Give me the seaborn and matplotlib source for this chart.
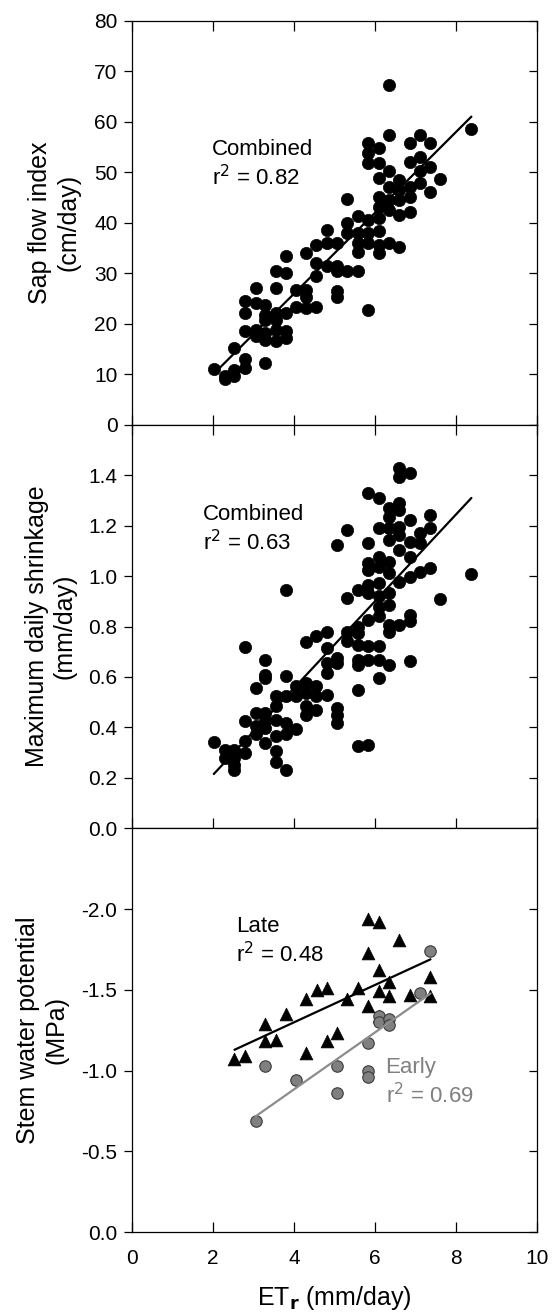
import numpy as np
import pandas as pd
import seaborn as sns
import matplotlib
matplotlib.use("Agg")
import matplotlib.pyplot as plt
from matplotlib import lines as mlines
from matplotlib.ticker import MultipleLocator, FormatStrFormatter

#------------------------------------------------------------------------#
# Data
# top panel: sap flow index vs ETr
sapX = [2.02, 2.29, 2.29, 2.53, 2.53, 2.53, 2.78, 2.78, 2.78, 2.78, 2.78,
        3.05, 3.05, 3.05, 3.05, 3.29, 3.29, 3.29, 3.29, 3.29, 3.29,
        3.56, 3.56, 3.56, 3.56, 3.56, 3.56, 3.81, 3.81, 3.81, 3.81, 3.81,
        4.06, 4.06, 4.30, 4.30, 4.30, 4.30, 4.55, 4.55, 4.55, 4.55,
        4.82, 4.82, 4.82, 5.07, 5.07, 5.07, 5.07, 5.07,
        5.32, 5.32, 5.32, 5.32, 5.58, 5.58, 5.58, 5.58, 5.58,
        5.83, 5.83, 5.83, 5.83, 5.83, 5.83, 5.83,
        6.10, 6.10, 6.10, 6.10, 6.10, 6.10, 6.10, 6.10, 6.10,
        6.35, 6.35, 6.35, 6.35, 6.35, 6.35, 6.35,
        6.59, 6.59, 6.59, 6.59, 6.59,
        6.86, 6.86, 6.86, 6.86, 6.86,
        7.10, 7.10, 7.10, 7.10, 7.37, 7.37, 7.37, 7.61, 8.38]
sapY = [11.1, 9.0, 9.6, 9.6, 10.9, 15.2, 13.0, 11.2, 24.6, 22.1, 18.5,
        27.1, 24.1, 18.8, 17.5, 23.8, 21.8, 20.8, 18.2, 16.8, 12.2,
        27.1, 30.4, 22.1, 20.8, 18.8, 16.5, 33.5, 30.0, 22.1, 18.5, 17.2,
        26.7, 23.4, 34.0, 26.7, 25.4, 23.1, 35.6, 32.0, 29.4, 23.4,
        38.6, 36.0, 31.4, 36.0, 31.4, 30.4, 26.4, 25.4,
        44.7, 39.9, 38.0, 30.4, 41.3, 38.0, 36.0, 34.3, 30.4,
        55.8, 53.8, 51.8, 40.6, 38.0, 36.0, 22.8,
        54.8, 51.8, 48.8, 45.2, 43.2, 40.9, 38.3, 35.6, 34.0,
        67.3, 57.4, 50.2, 47.2, 44.6, 42.6, 36.0,
        48.5, 46.5, 44.6, 41.6, 35.3,
        55.8, 52.1, 47.2, 45.2, 42.2,
        57.4, 53.1, 50.2, 47.9, 55.9, 51.0, 46.1, 48.7, 58.6]

# middle panel: maximum daily shrinkage vs ETr
mdsX = [2.02, 2.29, 2.29, 2.53, 2.53, 2.53, 2.53,
        2.78, 2.78, 2.78, 2.78, 3.05, 3.05, 3.05, 3.05,
        3.29, 3.29, 3.29, 3.29, 3.29, 3.29, 3.29,
        3.56, 3.56, 3.56, 3.56, 3.56, 3.56,
        3.81, 3.81, 3.81, 3.81, 3.81, 3.81, 4.06, 4.06, 4.06,
        4.30, 4.30, 4.30, 4.30, 4.30, 4.55, 4.55, 4.55, 4.55,
        4.82, 4.82, 4.82, 4.82, 4.82, 5.07, 5.07, 5.07, 5.07, 5.07, 5.07,
        5.32, 5.32, 5.32, 5.32,
        5.58, 5.58, 5.58, 5.58, 5.58, 5.58, 5.58, 5.58,
        5.83, 5.83, 5.83, 5.83, 5.83, 5.83, 5.83, 5.83, 5.83, 5.83,
        6.10, 6.10, 6.10, 6.10, 6.10, 6.10, 6.10, 6.10, 6.10, 6.10, 6.10,
        6.35, 6.35, 6.35, 6.35, 6.35, 6.35, 6.35, 6.35, 6.35, 6.35, 6.35,
        6.59, 6.59, 6.59, 6.59, 6.59, 6.59, 6.59, 6.59, 6.59,
        6.86, 6.86, 6.86, 6.86, 6.86, 6.86, 6.86, 6.86,
        7.10, 7.10, 7.10, 7.37, 7.37, 7.37, 7.61, 8.38]
mdsY = [0.341, 0.312, 0.279, 0.312, 0.279, 0.253, 0.233,
        0.717, 0.424, 0.345, 0.299, 0.556, 0.405, 0.372, 0.457,
        0.668, 0.609, 0.596, 0.457, 0.424, 0.398, 0.339,
        0.523, 0.484, 0.431, 0.365, 0.306, 0.262,
        0.945, 0.605, 0.523, 0.418, 0.372, 0.231, 0.563, 0.523, 0.392,
        0.737, 0.576, 0.536, 0.484, 0.451, 0.761, 0.563, 0.523, 0.471,
        0.780, 0.714, 0.655, 0.616, 0.530, 1.123, 0.675, 0.655, 0.477, 0.451, 0.418,
        1.182, 0.912, 0.780, 0.741,
        0.943, 0.800, 0.774, 0.728, 0.668, 0.649, 0.550, 0.326,
        1.330, 1.130, 1.051, 1.024, 0.965, 0.932, 0.827, 0.721, 0.668, 0.332,
        1.308, 1.192, 1.077, 1.037, 0.972, 0.919, 0.879, 0.840, 0.721, 0.668, 0.596,
        1.268, 1.235, 1.189, 1.143, 1.057, 1.011, 0.932, 0.886, 0.807, 0.780, 0.649,
        1.430, 1.393, 1.288, 1.262, 1.196, 1.163, 1.103, 0.978, 0.807,
        1.409, 1.222, 1.136, 1.077, 0.998, 0.846, 0.820, 0.662,
        1.169, 1.130, 1.018, 1.242, 1.189, 1.031, 0.908, 1.008]

# bottom panel: stem water potential (MPa), late and early season
lateX = [2.53, 2.78, 3.29, 3.29, 3.56, 3.81, 4.30, 4.30, 4.57, 4.82, 4.82,
         5.07, 5.32, 5.58, 5.83, 5.83, 5.83, 6.10, 6.10, 6.10, 6.10,
         6.35, 6.35, 6.59, 6.86, 7.37, 7.37]
lateY = [-1.07, -1.09, -1.29, -1.18, -1.19, -1.35, -1.44, -1.11, -1.50, -1.51, -1.18,
         -1.23, -1.44, -1.51, -1.94, -1.73, -1.40, -1.92, -1.62, -1.49, -1.34,
         -1.55, -1.46, -1.81, -1.47, -1.58, -1.46]
earlyX = [3.05, 3.29, 4.06, 5.07, 5.07, 5.83, 5.83, 5.83, 6.10, 6.10, 6.35, 6.35, 7.10, 7.37]
earlyY = [-0.69, -1.03, -0.94, -1.03, -0.86, -1.17, -1.00, -0.96, -1.34, -1.30,
          -1.32, -1.28, -1.48, -1.74]

xTicks = [0, 2, 4, 6, 8, 10]
#------------------------------------------------------------------------#
sns.set_style("ticks")
plt.rcParams['font.family'] = ['Liberation Sans', 'DejaVu Sans']
plt.rcParams['axes.unicode_minus'] = False
plt.rcParams['axes.linewidth'] = 0.9
# plain black text and ticks instead of seaborn's dark grey
for key in ('text.color', 'axes.labelcolor', 'xtick.color', 'ytick.color', 'axes.edgecolor'):
    plt.rcParams[key] = 'black'

sap = pd.DataFrame({"et": sapX, "val": sapY})
mds = pd.DataFrame({"et": mdsX, "val": mdsY})
swp = pd.concat([pd.DataFrame({"et": lateX, "val": lateY, "season": "Late"}),
                 pd.DataFrame({"et": earlyX, "val": earlyY, "season": "Early"})])

fig = plt.figure(figsize=(5.53, 13.12), dpi=100)
left, right = 132 / 553, 537 / 553
top, bottom = 1 - 21 / 1312, 1 - 1232 / 1312
h = (top - bottom) / 3
ax1 = fig.add_axes([left, bottom + 2 * h, right - left, h])
ax2 = fig.add_axes([left, bottom + h, right - left, h])
ax3 = fig.add_axes([left, bottom, right - left, h])

dotKw = dict(color="black", s=78, edgecolor="black", linewidth=0.5, legend=False)
lineKw = dict(scatter=False, ci=None, truncate=True)
txtKw = dict(fontsize=16, linespacing=1.25, va="top", ha="left")
labFs = 18

# top
sns.scatterplot(data=sap, x="et", y="val", ax=ax1, **dotKw)
sns.regplot(data=sap, x="et", y="val", ax=ax1, line_kws=dict(color="black", lw=1.6), **lineKw)
ax1.set_ylim(0, 80)
ax1.yaxis.set_major_locator(MultipleLocator(10))
ax1.set_ylabel("Sap flow index\n(cm/day)", fontsize=labFs)
ax1.text(1.98, 56.6, "Combined\nr$^2$ = 0.82", **txtKw)

# middle
sns.scatterplot(data=mds, x="et", y="val", ax=ax2, **dotKw)
sns.regplot(data=mds, x="et", y="val", ax=ax2, line_kws=dict(color="black", lw=1.6), **lineKw)
ax2.set_ylim(0, 1.6)
ax2.set_yticks([0, 0.2, 0.4, 0.6, 0.8, 1.0, 1.2, 1.4])
ax2.yaxis.set_major_formatter(FormatStrFormatter("%.1f"))
ax2.set_ylabel("Maximum daily shrinkage\n(mm/day)", fontsize=labFs)
ax2.text(1.75, 1.285, "Combined\nr$^2$ = 0.63", **txtKw)

# bottom
sns.scatterplot(data=swp[swp.season == "Late"], x="et", y="val", ax=ax3,
                marker="^", color="black", s=85, edgecolor="black", linewidth=0.5, legend=False)
sns.scatterplot(data=swp[swp.season == "Early"], x="et", y="val", ax=ax3,
                marker="o", color="#808080", s=68, edgecolor="#3a3a3a", linewidth=0.8, legend=False)
sns.regplot(data=swp[swp.season == "Late"], x="et", y="val", ax=ax3,
            line_kws=dict(color="black", lw=1.6), **lineKw)
sns.regplot(data=swp[swp.season == "Early"], x="et", y="val", ax=ax3,
            line_kws=dict(color="#8c8c8c", lw=1.6), **lineKw)
ax3.set_ylim(0, -2.5)
ax3.set_yticks([0, -0.5, -1.0, -1.5, -2.0])
ax3.yaxis.set_major_formatter(FormatStrFormatter("%.1f"))
ax3.set_ylabel("Stem water potential\n(MPa)", fontsize=labFs)
ax3.text(2.56, -1.955, "Late\nr$^2$ = 0.48", **txtKw)
ax3.text(6.26, -1.085, "Early\nr$^2$ = 0.69", color="#808080", **txtKw)
ax3.set_xlabel("ET$_\\mathbf{r}$ (mm/day)", fontsize=18, labelpad=12)

for ax in (ax1, ax2, ax3):
    ax.set_xlim(0, 10)
    ax.set_xticks(xTicks)
    ax.tick_params(axis="y", left=True, right=True, direction="in",
                   length=6, width=0.9, labelsize=15, pad=10.5)
    ax.tick_params(axis="x", direction="in", length=7, width=0.9, labelsize=15, pad=12)
    for s in ax.spines.values():
        s.set_visible(True)
        s.set_color("black")
for ax in (ax1, ax2):
    ax.tick_params(axis="x", top=True, bottom=True, labelbottom=False)
    ax.set_xlabel("")
ax3.tick_params(axis="x", top=False, bottom=True)

# fixed y-label positions (right edge of the two-line block)
ax1.yaxis.set_label_coords(-0.128, 0.5)
ax2.yaxis.set_label_coords(-0.136, 0.5)
ax3.yaxis.set_label_coords(-0.158, 0.5)

# left y ticks point outward, right ones stay inward
for ax in (ax1, ax2, ax3):
    for t in ax.yaxis.get_major_ticks():
        t.tick1line.set_marker(mlines.TICKLEFT)

fig.savefig("out.png", dpi=100)
